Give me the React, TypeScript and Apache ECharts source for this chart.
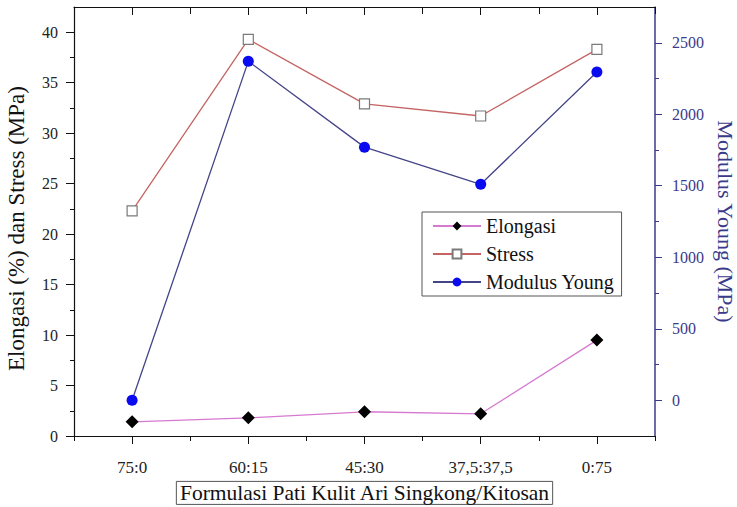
import React, { useEffect, useRef } from "react";
import * as echarts from "echarts";

const categories = ["75:0", "60:15", "45:30", "37,5:37,5", "0:75"];
const elongasi = [1.4, 1.8, 2.4, 2.2, 9.5];
const stress = [22.3, 39.3, 32.9, 31.7, 38.3];
const modulusYoung = [0, 2370, 1770, 1510, 2295];

const leftMajor = [0, 5, 10, 15, 20, 25, 30, 35, 40];
const leftMinor = [2.5, 7.5, 12.5, 17.5, 22.5, 27.5, 32.5, 37.5];
const rightMajor = [0, 500, 1000, 1500, 2000, 2500];
const rightMinor = [250, 750, 1250, 1750, 2250];

const FONT = "'Liberation Serif', 'DejaVu Serif', 'Times New Roman', serif";
const NAVY = "#3a3a8a";

export default function App() {
  const ref = useRef<HTMLDivElement>(null);
  useEffect(() => {
    if (!ref.current) return;
    const chart = echarts.init(ref.current, undefined, { renderer: "svg" });
    const baseX = {
      type: "category",
      data: categories,
      boundaryGap: true,
      splitLine: { show: false },
    };
    chart.setOption({
      animation: false,
      backgroundColor: "#ffffff",
      textStyle: { fontFamily: FONT },
      grid: { left: 74, right: 82, top: 7, bottom: 71, containLabel: false, outerBoundsMode: "none" },
      legend: {
        left: 422,
        top: 212,
        orient: "vertical",
        data: ["Elongasi", "Stress", "Modulus Young"],
        itemWidth: 48,
        itemHeight: 11,
        itemGap: 8,
        padding: [4, 7, 4, 10],
        borderColor: "#555",
        borderWidth: 1,
        backgroundColor: "#fff",
        textStyle: { fontFamily: FONT, fontSize: 20, color: "#111" },
      },
      xAxis: [
        {
          ...baseX,
          position: "bottom",
          axisLine: { show: true, onZero: false, lineStyle: { color: "#111", width: 1.2 } },
          axisTick: { show: true, alignWithLabel: true, length: 8, lineStyle: { color: "#111" } },
          axisLabel: { fontFamily: FONT, fontSize: 17, color: "#222", margin: 23 },
          name: "Formulasi Pati Kulit Ari Singkong/Kitosan",
          nameLocation: "middle",
          nameGap: 45,
          nameTextStyle: {
            fontFamily: FONT,
            fontSize: 21.5,
            color: "#111",
            borderColor: "#555",
            borderWidth: 1,
            padding: [1, 3, 0, 3],
          },
        },
        {
          ...baseX,
          position: "bottom",
          axisLine: { show: false, onZero: false },
          axisTick: { show: true, length: 5, lineStyle: { color: "#111" } },
          axisLabel: { show: false },
        },
        {
          ...baseX,
          position: "top",
          axisLine: { show: true, onZero: false, lineStyle: { color: "#111", width: 1.2 } },
          axisTick: { show: true, inside: true, alignWithLabel: true, length: 8, lineStyle: { color: "#111" } },
          axisLabel: { show: false },
        },
        {
          ...baseX,
          position: "top",
          axisLine: { show: false, onZero: false },
          axisTick: { show: true, inside: true, length: 7, lineStyle: { color: "#111" } },
          axisLabel: { show: false },
        },
      ],
      yAxis: [
        {
          type: "value",
          position: "left",
          min: 0,
          max: 42.5,
          splitLine: { show: false },
          axisLine: { show: true, onZero: false, lineStyle: { color: "#111", width: 1.2 } },
          axisTick: { show: true, length: 8, customValues: leftMajor, lineStyle: { color: "#111" } },
          axisLabel: { customValues: leftMajor, fontFamily: FONT, fontSize: 16, color: "#222", margin: 16 },
          name: "Elongasi (%) dan Stress (MPa)",
          nameLocation: "middle",
          nameGap: 46,
          nameTextStyle: { fontFamily: FONT, fontSize: 23, color: "#111", padding: [0, 14, 0, 0] },
        },
        {
          type: "value",
          position: "left",
          min: 0,
          max: 42.5,
          splitLine: { show: false },
          axisLine: { show: false, onZero: false },
          axisTick: { show: true, length: 4, customValues: leftMinor, lineStyle: { color: "#111" } },
          axisLabel: { show: false },
        },
        {
          type: "value",
          position: "right",
          min: -250,
          max: 2750,
          splitLine: { show: false },
          axisLine: { show: true, onZero: false, lineStyle: { color: NAVY, width: 1.5 } },
          axisTick: { show: true, length: 7, customValues: rightMajor, lineStyle: { color: NAVY } },
          axisLabel: {
            customValues: rightMajor,
            formatter: (v: number) => String(v),
            fontFamily: FONT,
            fontSize: 16,
            color: NAVY,
            margin: 17,
          },
          name: "Modulus Young (MPa)",
          nameLocation: "middle",
          nameGap: 55,
          nameRotate: -90,
          nameTextStyle: { fontFamily: FONT, fontSize: 22, color: NAVY },
        },
        {
          type: "value",
          position: "right",
          min: -250,
          max: 2750,
          splitLine: { show: false },
          axisLine: { show: false, onZero: false },
          axisTick: { show: true, length: 4, customValues: rightMinor, lineStyle: { color: NAVY } },
          axisLabel: { show: false },
        },
      ],
      series: [
        {
          name: "Elongasi",
          type: "line",
          xAxisIndex: 0,
          yAxisIndex: 0,
          data: elongasi,
          symbol: "diamond",
          symbolSize: 13,
          itemStyle: { color: "#000" },
          lineStyle: { color: "#d67ad0", width: 1.3 },
          z: 3,
        },
        {
          name: "Stress",
          type: "line",
          xAxisIndex: 0,
          yAxisIndex: 0,
          data: stress,
          symbol: "rect",
          symbolSize: 10,
          itemStyle: { color: "#fff", borderColor: "#7a7a7a", borderWidth: 1.2 },
          lineStyle: { color: "#c46464", width: 1.3 },
          z: 3,
        },
        {
          name: "Modulus Young",
          type: "line",
          xAxisIndex: 0,
          yAxisIndex: 2,
          data: modulusYoung,
          symbol: "circle",
          symbolSize: 11,
          itemStyle: { color: "#0a0af0" },
          lineStyle: { color: "#444488", width: 1.3 },
          z: 2,
        },
      ],
    });
    return () => chart.dispose();
  }, []);
  return <div ref={ref} style={{ width: 737, height: 507, position: "absolute", left: 0, top: 0, background: "#fff" }} />;
}
